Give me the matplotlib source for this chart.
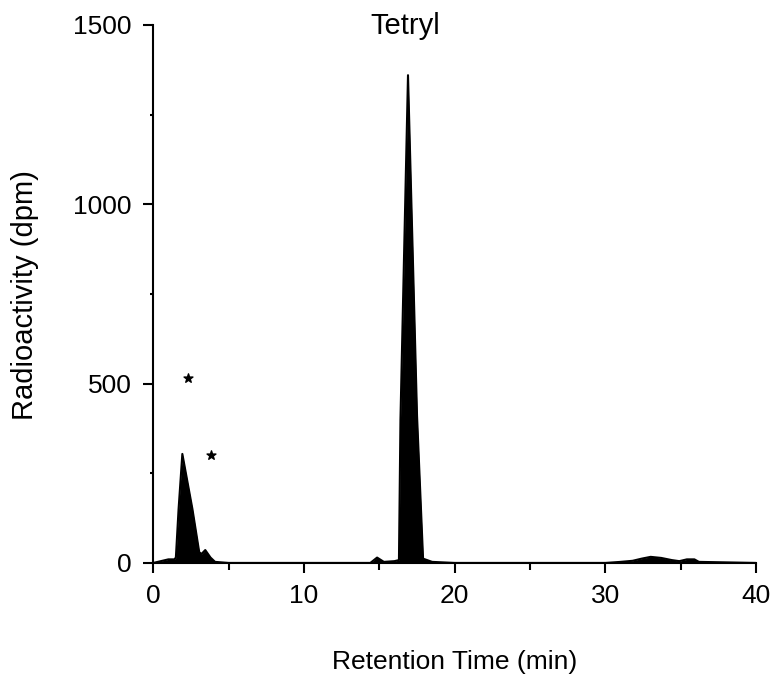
import matplotlib
matplotlib.use("Agg")
import matplotlib.pyplot as plt
from matplotlib.ticker import MultipleLocator

plt.rcParams['font.family'] = ['Liberation Sans', 'DejaVu Sans']

# Retention time (min) and radioactivity (dpm)
times = [0.0, 0.5, 1.0, 1.4, 1.5, 1.68, 1.93, 2.6, 3.05, 3.2, 3.45, 3.8, 4.1, 5.0,
         10.0, 14.4, 14.85, 15.3, 16.0, 16.3, 16.4, 16.9, 17.5, 17.9, 18.5,
         20.0, 25.0, 30.0, 31.0, 31.8, 32.4, 33.0, 33.7, 34.4, 34.9, 35.4, 35.9, 36.2, 40.0]
dpm = [0, 5, 10, 10, 15, 150, 304, 150, 30, 25, 36, 15, 3, 0,
       0, 0, 15, 3, 5, 8, 400, 1360, 410, 12, 3,
       0, 0, 0, 3, 6, 12, 17, 14, 8, 5, 10, 10, 3, 0]

star_x = [2.3, 3.85]
star_y = [516, 301]

x_ticks = [0, 10, 20, 30, 40]
y_ticks = [0, 500, 1000, 1500]

fig = plt.figure(figsize=(7.74, 6.75), dpi=100)
ax = fig.add_axes([0.198, 0.166, 0.779, 0.797])

ax.fill_between(times, dpm, 0, color='black', linewidth=0)
ax.plot(times, dpm, color='black', linewidth=1.5)
ax.scatter(star_x, star_y, marker='*', s=45, color='black')

ax.text(16.75, 1496, 'Tetryl', ha='center', va='center', fontsize=21)

ax.set_xlim(0, 40)
ax.set_ylim(0, 1500)
ax.set_xticks(x_ticks)
ax.set_yticks(y_ticks)
ax.xaxis.set_minor_locator(MultipleLocator(5))
ax.yaxis.set_minor_locator(MultipleLocator(250))
ax.tick_params(which='both', direction='out', labelsize=19, width=1.5, color='black')
ax.tick_params(which='major', length=7.5, pad=8)
ax.tick_params(axis='x', which='minor', length=5)
ax.tick_params(axis='y', which='minor', length=2)
for s in ['top', 'right']:
    ax.spines[s].set_visible(False)
for s in ['left', 'bottom']:
    ax.spines[s].set_linewidth(1.5)

ax.set_xlabel('Retention Time (min)', fontsize=19)
ax.set_ylabel('Radioactivity (dpm)', fontsize=21)
ax.xaxis.set_label_coords(0.5, -0.184)
ax.xaxis.label.set_va('center')
ax.yaxis.set_label_coords(-0.212, 0.498)
ax.yaxis.label.set_va('center')

fig.savefig('out.png', dpi=100)
